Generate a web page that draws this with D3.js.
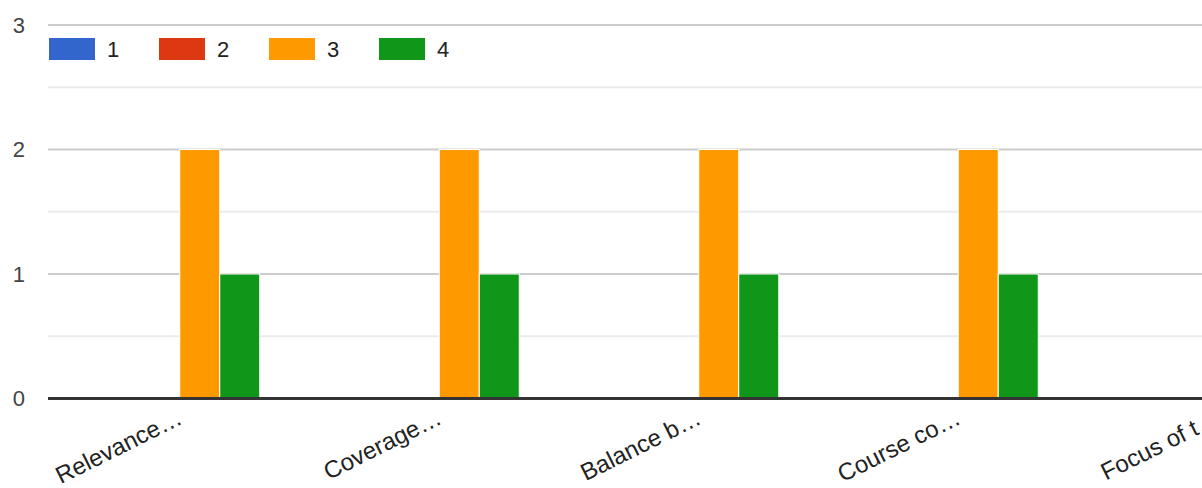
<!DOCTYPE html>
<html>
<head>
<meta charset="utf-8">
<script src="https://cdn.jsdelivr.net/npm/d3@7"></script>
<style>
html,body{margin:0;padding:0;background:#fff;overflow:hidden;}
svg{display:block;font-family:Arial,"Liberation Sans",sans-serif;}
</style>
</head>
<body>
<svg id="chart" width="1202" height="488"></svg>
<script>
const categories = ["Relevance\u2026", "Coverage\u2026", "Balance b\u2026", "Course co\u2026", "Focus of t\u2026"];
const seriesNames = ["1", "2", "3", "4"];
const series1 = [0, 0, 0, 0, 0];
const series2 = [0, 0, 0, 0, 0];
const series3 = [2, 2, 2, 2, 2];
const series4 = [1, 1, 1, 1, 1];
const colors = ["#3366cc", "#dc3912", "#ff9900", "#109618"];
const yTicks = [0, 1, 2, 3];
const yMinor = [0.5, 1.5, 2.5];

const allSeries = [series1, series2, series3, series4];
const svg = d3.select("#chart");

const left = 48, right = 1202;
const x0 = d3.scaleBand().domain(categories).range([50, 50 + 5 * 259.5])
  .paddingInner(0.3834).paddingOuter(0.1917);
const x1 = d3.scaleBand().domain(seriesNames).range([0, x0.bandwidth()]);
const y = d3.scaleLinear().domain([0, 3]).range([398.5, 25]);

// minor gridlines
svg.append("g").selectAll("line").data(yMinor).join("line")
  .attr("x1", left).attr("x2", right)
  .attr("y1", d => y(d)).attr("y2", d => y(d))
  .attr("stroke", "#ebebeb").attr("stroke-width", 2);
// major gridlines
svg.append("g").selectAll("line").data(yTicks.filter(d => d !== 0)).join("line")
  .attr("x1", left).attr("x2", right)
  .attr("y1", d => y(d)).attr("y2", d => y(d))
  .attr("stroke", "#cccccc").attr("stroke-width", 2);

// y labels
svg.append("g").selectAll("text").data(yTicks).join("text")
  .attr("x", 25).attr("y", d => y(d)).attr("dy", "0.36em")
  .attr("text-anchor", "end").attr("font-size", 22).attr("fill", "#444")
  .text(d => d);

// bars
const groups = svg.append("g").selectAll("g").data(categories).join("g")
  .attr("transform", c => `translate(${x0(c)},0)`);
groups.selectAll("rect").data((c, i) => allSeries.map((s, k) => ({k, v: s[i]})).filter(d => d.v > 0))
  .join("rect")
  .attr("x", d => x1(seriesNames[d.k]))
  .attr("width", x1.bandwidth())
  .attr("y", d => y(d.v))
  .attr("height", d => y(0) - y(d.v))
  .attr("fill", d => colors[d.k])
  .attr("stroke", "#fff").attr("stroke-width", 1);

// baseline
svg.append("line").attr("x1", left).attr("x2", right)
  .attr("y1", y(0)).attr("y2", y(0))
  .attr("stroke", "#333").attr("stroke-width", 3);

// x labels
svg.append("g").selectAll("text").data(categories).join("text")
  .attr("transform", c => `translate(${x0(c) + x0.bandwidth() / 2 + 4},423) rotate(-26.5)`)
  .attr("text-anchor", "end").attr("font-size", 24).attr("fill", "#222")
  .text(c => c);

// legend
const leg = svg.append("g").selectAll("g").data(seriesNames).join("g")
  .attr("transform", (d, i) => `translate(${49 + i * 110},38)`);
leg.append("rect").attr("width", 46).attr("height", 22)
  .attr("fill", (d, i) => colors[i]);
leg.append("text").attr("x", 58).attr("y", 11).attr("dy", "0.36em")
  .attr("font-size", 22).attr("fill", "#222").text(d => d);
</script>
</body>
</html>
